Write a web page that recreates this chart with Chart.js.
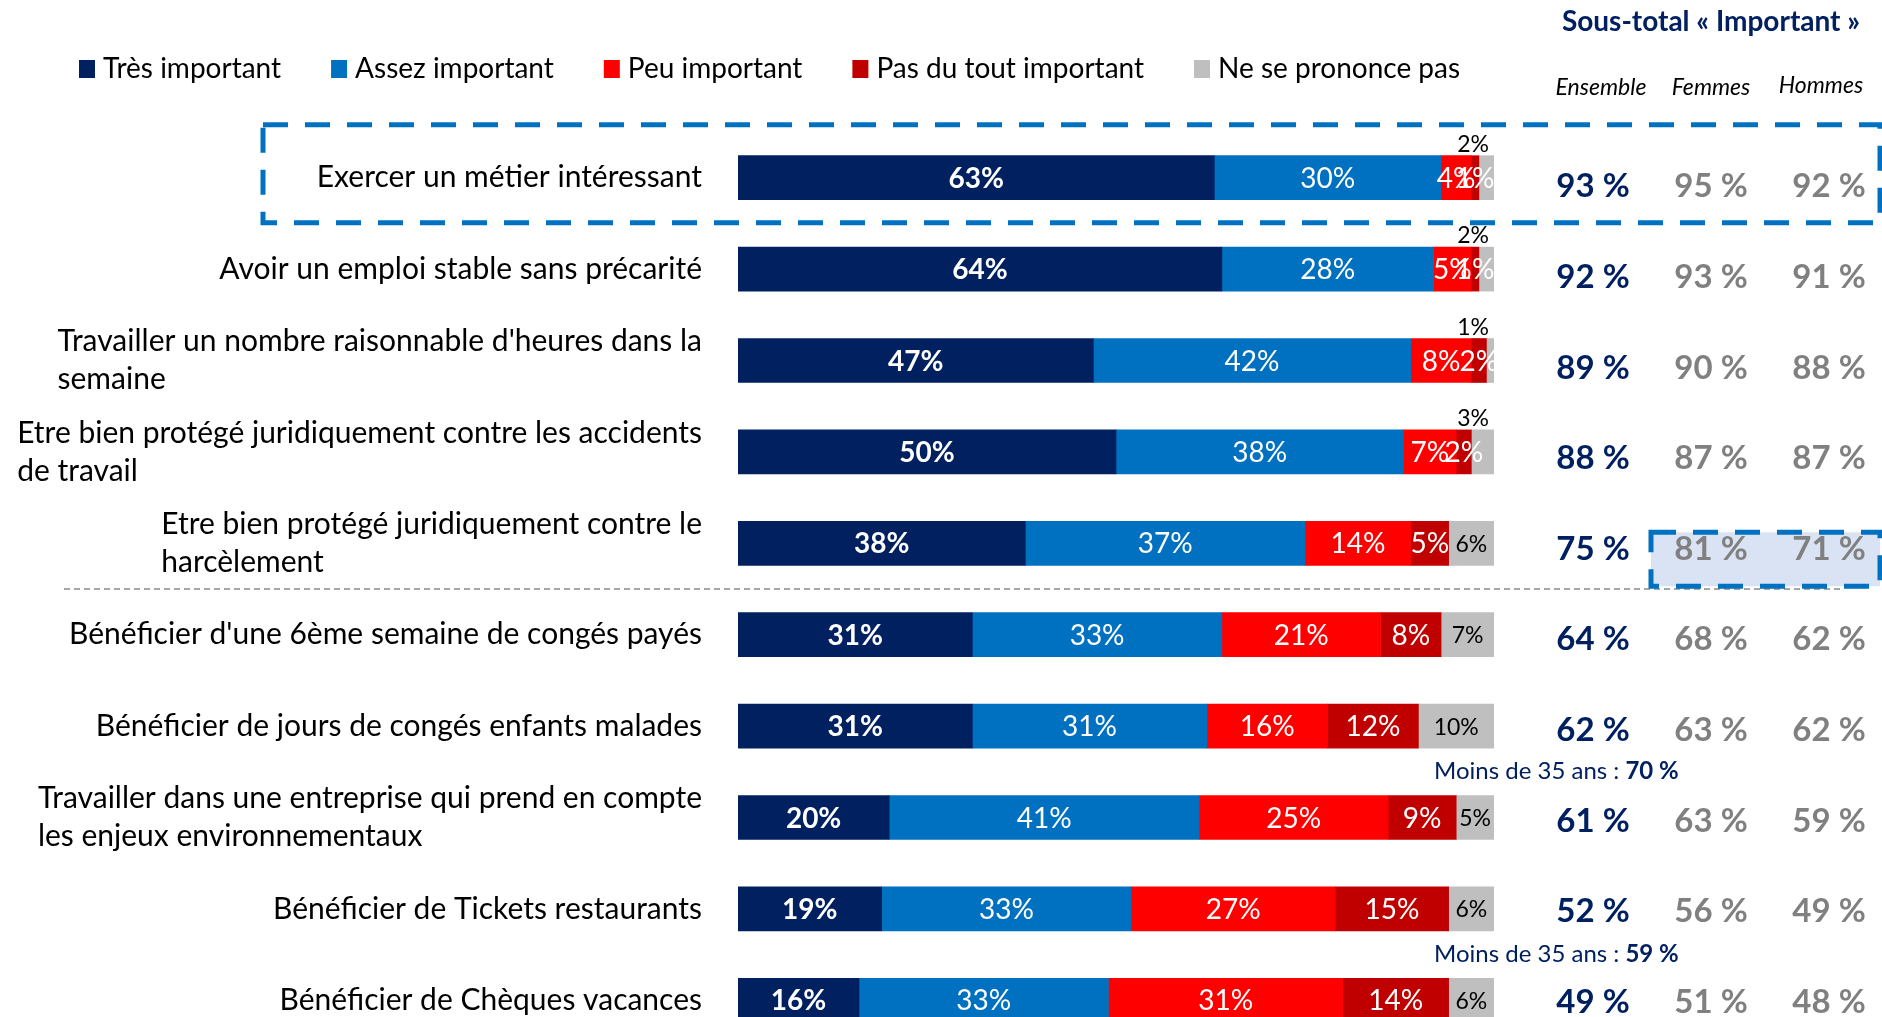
<!DOCTYPE html>
<html>
<head>
<meta charset="utf-8">
<script src="https://cdn.jsdelivr.net/npm/chart.js@4.4.0/dist/chart.umd.min.js"></script>
<style>
  html, body { margin: 0; padding: 0; background: #fff; overflow: hidden; }
  #wrap { position: relative; width: 1882px; height: 1046px; }
</style>
</head>
<body>
<div id="wrap"><canvas id="chart" width="1882" height="1046"></canvas></div>
<script>
// categories (each entry = lines of the label)
const categories = [
  ['Exercer un métier intéressant'],
  ['Avoir un emploi stable sans précarité'],
  ["Travailler un nombre raisonnable d'heures dans la", 'semaine'],
  ['Etre bien protégé juridiquement contre les accidents', 'de travail'],
  ['Etre bien protégé juridiquement contre le', 'harcèlement'],
  ["Bénéficier d'une 6ème semaine de congés payés"],
  ['Bénéficier de jours de congés enfants malades'],
  ['Travailler dans une entreprise qui prend en compte', 'les enjeux environnementaux'],
  ['Bénéficier de Tickets restaurants'],
  ['Bénéficier de Chèques vacances']
];

// series values (%)
const tresImportant  = [63, 64, 47, 50, 38, 31, 31, 20, 19, 16];
const assezImportant = [30, 28, 42, 38, 37, 33, 31, 41, 33, 33];
const peuImportant   = [4, 5, 8, 7, 14, 21, 16, 25, 27, 31];
const pasDuTout      = [1, 1, 2, 2, 5, 8, 12, 9, 15, 14];
const nspp           = [2, 2, 1, 3, 6, 7, 10, 5, 6, 6];

// sous-total « Important »
const ensemble = [93, 92, 89, 88, 75, 64, 62, 61, 52, 49];
const femmes   = [95, 93, 90, 87, 81, 68, 63, 63, 56, 51];
const hommes   = [92, 91, 88, 87, 71, 62, 62, 59, 49, 48];
const moins35  = [null, null, null, null, null, null, 70, null, 59, null];

const FONT = 'Lato, "Open Sans", sans-serif';
const NAVY = '#002060';
const GREY = '#808080';

const datasets = [
  { label: 'Très important', data: tresImportant, backgroundColor: '#002060', labelColor: '#fff', bold: true },
  { label: 'Assez important', data: assezImportant, backgroundColor: '#0070C0', labelColor: '#fff' },
  { label: 'Peu important', data: peuImportant, backgroundColor: '#FF0000', labelColor: '#fff' },
  { label: 'Pas du tout important', data: pasDuTout, backgroundColor: '#C00000', labelColor: '#fff' },
  { label: 'Ne se prononce pas', data: nspp, backgroundColor: '#BFBFBF', labelColor: '#000', small: true }
].map(d => ({ ...d, barThickness: 44, borderWidth: 0 }));

const overlay = {
  id: 'overlay',
  afterDraw(chart) {
    const ctx = chart.ctx;
    const y = chart.scales.y;
    const area = chart.chartArea;
    ctx.save();

    // legend
    ctx.font = '28px ' + FONT;
    ctx.textBaseline = 'middle';
    ctx.textAlign = 'left';
    let lx = 79;
    chart.data.datasets.forEach(ds => {
      ctx.fillStyle = ds.backgroundColor;
      ctx.fillRect(lx, 60, 16, 18);
      ctx.fillStyle = '#000';
      ctx.fillText(ds.label, lx + 24, 69);
      lx += 24 + ctx.measureText(ds.label).width + 50;
    });

    // category labels: left-aligned block, right edge near the bars
    ctx.font = '30px ' + FONT;
    ctx.fillStyle = '#000';
    categories.forEach((lines, i) => {
      const cy = y.getPixelForValue(i);
      const w = Math.max(...lines.map(l => ctx.measureText(l).width));
      const x0 = area.left - 36 - w;
      lines.forEach((l, k) => {
        ctx.fillText(l, x0, cy + (k - (lines.length - 1) / 2) * 38);
      });
    });

    // bar value labels
    chart.data.datasets.forEach((ds, d) => {
      const meta = chart.getDatasetMeta(d);
      meta.data.forEach((bar, i) => {
        const v = ds.data[i];
        const txt = v + '%';
        ctx.fillStyle = ds.labelColor;
        if (ds.small) {
          ctx.font = '23px ' + FONT;
          if (v <= 3) {
            ctx.textAlign = 'right';
            ctx.textBaseline = 'alphabetic';
            ctx.fillText(txt, bar.x - 5, bar.y - 26);
            return;
          }
        } else {
          ctx.font = (ds.bold ? 'bold ' : '') + '28px ' + FONT;
        }
        ctx.textAlign = 'center';
        ctx.textBaseline = 'middle';
        ctx.fillText(txt, (bar.x + bar.base) / 2, bar.y + 1);
      });
    });

    // dashed separator between the two groups
    const sepY = (y.getPixelForValue(4) + y.getPixelForValue(5)) / 2;
    ctx.strokeStyle = '#A6A6A6';
    ctx.lineWidth = 2;
    ctx.setLineDash([6, 4]);
    ctx.beginPath();
    ctx.moveTo(64, sepY);
    ctx.lineTo(1843, sepY);
    ctx.stroke();

    // highlight box around the first row
    const y0 = y.getPixelForValue(0);
    ctx.strokeStyle = '#0070C0';
    ctx.lineWidth = 5;
    ctx.setLineDash([25, 17]);
    ctx.strokeRect(263, y0 - 53, 1617, 98);

    // highlight box femmes/hommes row 5
    const y4 = y.getPixelForValue(4) + 16;
    ctx.fillStyle = '#DAE3F3';
    ctx.fillRect(1651, y4 - 27, 229, 54);
    ctx.strokeRect(1651, y4 - 27, 229, 54);
    ctx.setLineDash([]);

    // sous-total header
    ctx.textAlign = 'center';
    ctx.textBaseline = 'middle';
    ctx.fillStyle = NAVY;
    ctx.font = 'bold 28px ' + FONT;
    ctx.fillText('Sous-total « Important »', 1711, 22);
    ctx.fillStyle = '#000';
    ctx.font = 'italic 23px ' + FONT;
    ctx.fillText('Ensemble', 1601, 88);
    ctx.fillText('Femmes', 1711, 88);
    ctx.fillText('Hommes', 1821, 86);

    // sous-total values
    ctx.font = 'bold 33px ' + FONT;
    ensemble.forEach((v, i) => {
      const cy = y.getPixelForValue(i) + 9 - 0.8 * i;
      ctx.fillStyle = NAVY;
      ctx.fillText(v + ' %', 1593, cy);
      ctx.fillStyle = GREY;
      ctx.fillText(femmes[i] + ' %', 1711, cy);
      ctx.fillText(hommes[i] + ' %', 1829, cy);
    });

    // moins de 35 ans notes
    moins35.forEach((v, i) => {
      if (v == null) return;
      const cy = y.getPixelForValue(i) + 45;
      const lead = 'Moins de 35 ans : ';
      ctx.textAlign = 'left';
      ctx.fillStyle = NAVY;
      ctx.font = '24px ' + FONT;
      ctx.fillText(lead, 1434, cy);
      const w = ctx.measureText(lead).width;
      ctx.font = 'bold 24px ' + FONT;
      ctx.fillText(v + ' %', 1434 + w, cy);
    });

    ctx.restore();
  }
};

new Chart(document.getElementById('chart'), {
  type: 'bar',
  data: { labels: categories.map(c => c.join(' ')), datasets: datasets },
  options: {
    indexAxis: 'y',
    responsive: false,
    animation: false,
    layout: { padding: { top: 132, right: 388, bottom: 0, left: 0 } },
    plugins: { legend: { display: false }, tooltip: { enabled: false } },
    scales: {
      x: { stacked: true, min: 0, max: 100, display: false },
      y: {
        stacked: true,
        ticks: { display: false },
        grid: { display: false },
        border: { display: false },
        afterFit(scale) { scale.width = 738; }
      }
    }
  },
  plugins: [overlay]
});
</script>
</body>
</html>
